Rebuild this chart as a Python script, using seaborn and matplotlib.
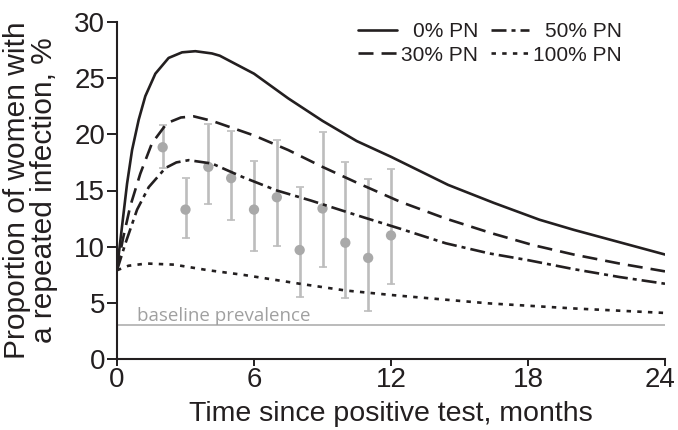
import matplotlib
matplotlib.use("Agg")
import matplotlib.pyplot as plt
import matplotlib.transforms as mtransforms
import seaborn as sns
import pandas as pd

# ---- data ----
t_pn0 = [0, 0.22, 0.44, 0.66, 0.95, 1.24, 1.68, 2.26, 2.85, 3.43, 4.16, 4.5, 6, 7.5, 9, 10.5, 12, 14.5, 16.5, 18.5, 20, 22, 24]
v_pn0 = [8.0, 11.8, 15.6, 18.6, 21.3, 23.4, 25.4, 26.8, 27.3, 27.4, 27.2, 27.0, 25.4, 23.2, 21.2, 19.4, 18.0, 15.5, 13.9, 12.4, 11.5, 10.4, 9.3]

t_pn30 = [0, 0.25, 0.58, 1.02, 1.53, 2.19, 2.8, 3.36, 4.16, 6, 7.5, 9, 10.5, 12.4, 14.4, 16.4, 18.2, 20, 22, 24]
v_pn30 = [7.9, 10.6, 13.6, 16.5, 19.2, 21.0, 21.5, 21.6, 21.2, 19.9, 18.6, 17.1, 15.7, 14.0, 12.5, 11.2, 10.15, 9.3, 8.5, 7.8]

t_pn50 = [0, 0.37, 0.88, 1.39, 2.12, 2.6, 3.14, 4.16, 5.5, 7, 8.5, 10.5, 12.4, 14.4, 16.3, 18, 20, 22, 24]
v_pn50 = [7.9, 10.3, 13.3, 15.3, 17.0, 17.5, 17.7, 17.4, 16.2, 15.0, 14.1, 12.8, 11.6, 10.3, 9.4, 8.8, 8.0, 7.3, 6.7]

t_pn100 = [0, 0.5, 1.3, 2.5, 4, 5.5, 8, 10, 12, 13.7, 16.3, 20, 24]
v_pn100 = [7.9, 8.3, 8.5, 8.4, 7.9, 7.5, 6.7, 6.1, 5.7, 5.4, 4.95, 4.5, 4.1]

obs_month = [2, 3, 4, 5, 6, 7, 8, 9, 10, 11, 12]
obs_value = [18.85, 13.3, 17.1, 16.1, 13.3, 14.4, 9.7, 13.4, 10.35, 9.0, 11.0]
obs_low = [17.0, 10.75, 13.8, 12.4, 9.6, 10.05, 5.55, 8.2, 5.4, 4.3, 6.65]
obs_high = [20.8, 16.15, 20.9, 20.3, 17.65, 19.5, 15.3, 20.2, 17.5, 16.0, 16.9]

baseline_prevalence = 3.0
series_labels = ["0% PN", "30% PN", "50% PN", "100% PN"]
x_ticks = [0, 6, 12, 18, 24]
y_ticks = [0, 5, 10, 15, 20, 25, 30]

# ---- style ----
sns.set_theme(style="ticks")
plt.rcParams["font.family"] = ["Liberation Sans", "DejaVu Sans"]
plt.rcParams["lines.scale_dashes"] = False
ink = "#231f20"

fig = plt.figure(figsize=(6.78, 4.30), dpi=100)
ax = fig.add_axes([117 / 678, 1 - 359 / 430, 548 / 678, 337 / 430])

styles = [
    "-",
    (0, (10.8, 5.8)),
    (0, (10.8, 3.6, 2.9, 3.6)),
    (0, (3.2, 4.5)),
]
curves = [(t_pn0, v_pn0), (t_pn30, v_pn30), (t_pn50, v_pn50), (t_pn100, v_pn100)]

# baseline
ax.plot([0, 24], [baseline_prevalence, baseline_prevalence], color="#a8a8a8", lw=1.1, zorder=1)
ax.text(0.88, 3.4, "baseline prevalence", color="#a0a0a0", fontsize=13.5,
        family=["Open Sans", "DejaVu Sans"], va="baseline", ha="left")

# observations
ax.errorbar(obs_month, obs_value,
            yerr=[[v - lo for v, lo in zip(obs_value, obs_low)],
                  [hi - v for v, hi in zip(obs_value, obs_high)]],
            fmt="none", ecolor="#bdbdbd", elinewidth=1.9, capsize=3.2, capthick=1.2, zorder=2)
obs_df = pd.DataFrame({"month": obs_month, "value": obs_value})
sns.scatterplot(data=obs_df, x="month", y="value", color="#a9a9a9", s=55,
                edgecolor="none", ax=ax, zorder=3, legend=False)

# model curves
for (t, v), lab, ls in zip(curves, series_labels, styles):
    df = pd.DataFrame({"t": t, "v": v})
    sns.lineplot(data=df, x="t", y="v", color=ink, lw=1.9, linestyle=ls,
                 label=lab, ax=ax, zorder=4, sort=False)

ax.set_xlim(0, 24)
ax.set_ylim(0, 30)
ax.set_xticks(x_ticks)
ax.set_yticks(y_ticks)
ax.tick_params(axis="both", direction="out", width=1.4, color=ink,
               labelsize=20, labelcolor=ink)
ax.tick_params(axis="x", length=5, pad=1)
ax.tick_params(axis="y", length=7, pad=1.5)
for side in ["top", "right"]:
    ax.spines[side].set_visible(False)
for side in ["left", "bottom"]:
    ax.spines[side].set_linewidth(1.5)
    ax.spines[side].set_color(ink)

# nudge the last x tick label slightly left, as in the reference
last_lab = ax.xaxis.get_major_ticks()[-1].label1
last_lab.set_transform(last_lab.get_transform() +
                       mtransforms.ScaledTranslation(-5 / 100, 0, fig.dpi_scale_trans))

ax.set_xlabel("Time since positive test, months", fontsize=20.5, color=ink)
ax.xaxis.set_label_coords(0.5, (359 - 421) / 337)
ax.xaxis.label.set_va("baseline")
ax.set_ylabel("Proportion of women with\na repeated infection, %", fontsize=21.5,
              color=ink, linespacing=0.95)
ax.yaxis.set_label_coords(-0.108, 0.5)

leg = ax.legend(loc="upper right", bbox_to_anchor=(622 / 678, 1 - 22 / 430),
                bbox_transform=fig.transFigure, ncol=2, frameon=False,
                fontsize=15, handlelength=1.85, handletextpad=0.2,
                columnspacing=0.6, labelspacing=0.22, borderpad=0, borderaxespad=0)
for txt in leg.get_texts():
    txt.set_color(ink)

# right-align labels within each legend column
fig.canvas.draw()
renderer = fig.canvas.get_renderer()
texts = leg.get_texts()
for col in (texts[:2], texts[2:]):
    widths = [t.get_window_extent(renderer).width for t in col]
    wmax = max(widths)
    for t, w in zip(col, widths):
        t.set_x(t.get_position()[0] + (wmax - w))

fig.savefig("out.png", dpi=100)
